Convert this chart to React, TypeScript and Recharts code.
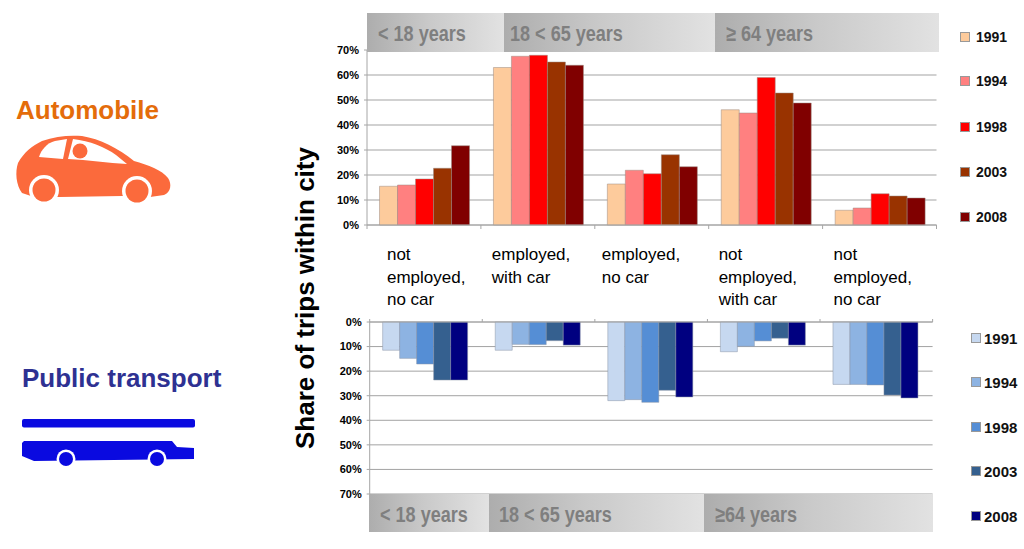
import { BarChart, Bar, XAxis, YAxis, CartesianGrid } from 'recharts';

const years = ['1991', '1994', '1998', '2003', '2008'];
const categoryLines = [
  ['not', 'employed,', 'no car'],
  ['employed,', 'with car'],
  ['employed,', 'no car'],
  ['not', 'employed,', 'with car'],
  ['not', 'employed,', 'no car'],
];

const car1991 = [15.5, 63, 16.4, 46.1, 5.9];
const car1994 = [16, 67.5, 21.9, 44.8, 6.8];
const car1998 = [18.4, 67.9, 20.5, 59, 12.5];
const car2003 = [22.7, 65.2, 28.1, 52.8, 11.6];
const car2008 = [31.7, 63.9, 23.3, 48.8, 10.8];

const pt1991 = [11.5, 11.5, 32, 12.1, 25.4];
const pt1994 = [14.8, 9.1, 31.6, 9.9, 25.4];
const pt1998 = [17.1, 9.2, 32.7, 7.7, 25.6];
const pt2003 = [23.6, 7.6, 27.8, 6.6, 29.7];
const pt2008 = [23.6, 9.4, 30.5, 9.4, 30.9];

const percentTicks = [0, 10, 20, 30, 40, 50, 60, 70];
const topAgeLabels = ['< 18 years', '18 < 65 years', '≥ 64 years'];
const bottomAgeLabels = ['< 18 years', '18 < 65 years', '≥64 years'];

const carColors = ['#fdcb9c', '#ff8080', '#ff0000', '#993300', '#800000'];
const ptColors = ['#c6d8f0', '#8db3e2', '#558ed5', '#35608f', '#000080'];

const carSeries = [car1991, car1994, car1998, car2003, car2008];
const ptSeries = [pt1991, pt1994, pt1998, pt2003, pt2008];

const buildRows = (series: number[][]) =>
  categoryLines.map((lines, i) => {
    const row: Record<string, string | number> = { name: lines.join(' ') };
    years.forEach((y, s) => {
      row[y] = series[s][i];
    });
    return row;
  });

const carData = buildRows(carSeries);
const ptData = buildRows(ptSeries);

const font = '"Liberation Sans", Arial, sans-serif';
const axisColor = '#a6a6a6';
const gridColor = '#a3a3a3';
const labelDx = [-37, -46, -50, -47, -46];

const topBand = 113.9;
const bottomBand = 112.6;

const TopTick = (props: any) => {
  const { x, index } = props;
  const left = x - topBand / 2;
  return (
    <g>
      <line x1={left} x2={left} y1={225} y2={229} stroke={axisColor} />
      {index === 4 && <line x1={left + topBand} x2={left + topBand} y1={225} y2={229} stroke={axisColor} />}
      <text fontFamily={font} fontSize={17} fill="#000">
        {categoryLines[index].map((line, i) => (
          <tspan key={i} x={x + labelDx[index]} y={260 + i * 22.7}>{line}</tspan>
        ))}
      </text>
    </g>
  );
};

const BottomTick = (props: any) => {
  const { x, index } = props;
  const left = x - bottomBand / 2;
  return (
    <g>
      <line x1={left} x2={left} y1={19} y2={22} stroke={axisColor} />
      {index === 4 && <line x1={left + bottomBand} x2={left + bottomBand} y1={19} y2={22} stroke={axisColor} />}
    </g>
  );
};

const yTick = { fontSize: 11, fontWeight: 700, fill: '#000', fontFamily: font };

const AgeBand = ({ label, left, width, top, textLeft }: any) => (
  <div
    style={{
      position: 'absolute',
      left,
      top,
      width,
      height: 38.5,
      background: 'linear-gradient(90deg, #adadad 0%, #c9c9c9 45%, #e2e2e2 100%)',
      color: '#7f7f7f',
      fontFamily: font,
      fontWeight: 700,
      fontSize: 22,
      lineHeight: '41px',
      paddingLeft: textLeft,
      boxSizing: 'border-box',
      whiteSpace: 'nowrap',
    }}
  >
    <span style={{ display: 'inline-block', transform: 'scaleX(0.82)', transformOrigin: 'left center' }}>{label}</span>
  </div>
);

const Legend = ({ colors, left, tops, size, gap }: any) => (
  <>
    {years.map((y, i) => (
      <div
        key={y}
        style={{
          position: 'absolute',
          left,
          top: tops[i] - 10,
          height: 20,
          display: 'flex',
          alignItems: 'center',
          fontFamily: font,
          fontWeight: 700,
          fontSize: size,
          color: '#111',
        }}
      >
        <span
          style={{
            width: 10,
            height: 10,
            marginRight: gap,
            background: colors[i],
            border: '1px solid #999',
            boxSizing: 'border-box',
          }}
        />
        {y}
      </div>
    ))}
  </>
);

const CarIcon = () => (
  <svg width={200} height={90} viewBox="0 125 200 90" style={{ position: 'absolute', left: 0, top: 125 }}>
    <path
      d="M22 193 C16 185 15 172 18 163 C24 152 32 146 42 141 C55 136 70 135 82 136 C100 139 118 148 134 161 C148 165 162 170 168 178 C172 184 171 192 164 195 L150 197 L122 196 L60 197 L34 197 Z"
      fill="#fb6a3c"
    />
    <path d="M39 157 C41 150 47 143 55 141 L67 139 L63 159 Z" fill="#fff" />
    <path d="M68 159 L73 139 C90 141 105 147 116 155 L127 164 C108 163 88 160 68 159 Z" fill="#fff" />
    <circle cx={80} cy={151} r={7.5} fill="#fb6a3c" />
    <circle cx={44} cy={190} r={15} fill="#fff" />
    <circle cx={44} cy={190} r={11.5} fill="#fb6a3c" />
    <circle cx={137} cy={191} r={15} fill="#fff" />
    <circle cx={137} cy={191} r={11.5} fill="#fb6a3c" />
  </svg>
);

const BusIcon = () => (
  <svg width={200} height={60} viewBox="0 410 200 60" style={{ position: 'absolute', left: 0, top: 410 }}>
    <rect x={22} y={419} width={173} height={8.5} rx={2} fill="#0a0ae0" />
    <path d="M24 441 L172 441 L177 447 L194 448 L194 459 L34 461 L22 456 L22 443 Z" fill="#0a0ae0" />
    <circle cx={66} cy={459} r={9.5} fill="#fff" />
    <circle cx={66} cy={459} r={7} fill="#0a0ae0" />
    <circle cx={157} cy={459} r={9.5} fill="#fff" />
    <circle cx={157} cy={459} r={7} fill="#0a0ae0" />
  </svg>
);

const App = () => {
  return (
    <div style={{ position: 'absolute', left: 0, top: 0, width: 1024, height: 549, overflow: 'hidden', background: '#fff' }}>
      <div style={{ position: 'absolute', left: 16, top: 94, fontFamily: font, fontWeight: 700, fontSize: 26, lineHeight: '32px', color: '#e46c0a' }}>
        Automobile
      </div>
      <CarIcon />
      <div style={{ position: 'absolute', left: 22, top: 362, fontFamily: font, fontWeight: 700, fontSize: 26, lineHeight: '32px', color: '#2e3192', whiteSpace: 'nowrap' }}>
        Public transport
      </div>
      <BusIcon />

      <div
        style={{
          position: 'absolute',
          left: 305,
          top: 298,
          transform: 'translate(-50%, -50%) rotate(-90deg)',
          fontFamily: font,
          fontWeight: 700,
          fontSize: 26,
          whiteSpace: 'nowrap',
          color: '#000',
        }}
      >
        Share of trips within city
      </div>

      <div style={{ position: 'absolute', left: 0, top: 0 }}>
        <BarChart width={1024} height={320} data={carData} barGap={0} barCategoryGap="11%" margin={{ top: 50, right: 87.5, bottom: 0, left: 0 }}>
          <CartesianGrid vertical={false} stroke={gridColor} />
          <XAxis dataKey="name" height={95} interval={0} axisLine={{ stroke: axisColor }} tickLine={false} tick={TopTick} />
          <YAxis width={367} domain={[0, 70]} ticks={percentTicks} interval={0} tick={yTick} tickFormatter={(v) => `${v}%`} axisLine={{ stroke: axisColor }} tickLine={{ stroke: axisColor }} tickSize={3} tickMargin={5} />
          {years.map((y, i) => (
            <Bar key={y} dataKey={y} fill={carColors[i]} stroke="#9a8a80" strokeWidth={0.5} isAnimationActive={false} />
          ))}
        </BarChart>
      </div>

      <div style={{ position: 'absolute', left: 0, top: 300 }}>
        <BarChart width={1024} height={200} data={ptData} barGap={0} barCategoryGap="11.5%" margin={{ top: 0, right: 91.4, bottom: 6, left: 0 }}>
          <CartesianGrid vertical={false} stroke={gridColor} />
          <XAxis dataKey="name" orientation="top" height={22} interval={0} axisLine={{ stroke: axisColor }} tickLine={false} tick={BottomTick} />
          <YAxis width={369.7} reversed domain={[0, 70]} ticks={percentTicks} interval={0} tick={yTick} tickFormatter={(v) => `${v}%`} axisLine={{ stroke: axisColor }} tickLine={{ stroke: axisColor }} tickSize={3} tickMargin={5} />
          {years.map((y, i) => (
            <Bar key={y} dataKey={y} fill={ptColors[i]} stroke="#8a94a6" strokeWidth={0.5} isAnimationActive={false} />
          ))}
        </BarChart>
      </div>

      <AgeBand label={topAgeLabels[0]} left={366.5} width={137.5} top={13} textLeft={11} />
      <AgeBand label={topAgeLabels[1]} left={504} width={211} top={13} textLeft={6} />
      <AgeBand label={topAgeLabels[2]} left={715} width={224} top={13} textLeft={11} />

      <AgeBand label={bottomAgeLabels[0]} left={369} width={120} top={493.5} textLeft={11} />
      <AgeBand label={bottomAgeLabels[1]} left={489} width={215} top={493.5} textLeft={10} />
      <AgeBand label={bottomAgeLabels[2]} left={704} width={229} top={493.5} textLeft={11} />

      <Legend colors={carColors} left={960} tops={[37, 81, 127, 172, 217]} size={14} gap={6} />
      <Legend colors={ptColors} left={971} tops={[338, 382, 427, 471, 516]} size={15} gap={3} />
    </div>
  );
};

export default App;
